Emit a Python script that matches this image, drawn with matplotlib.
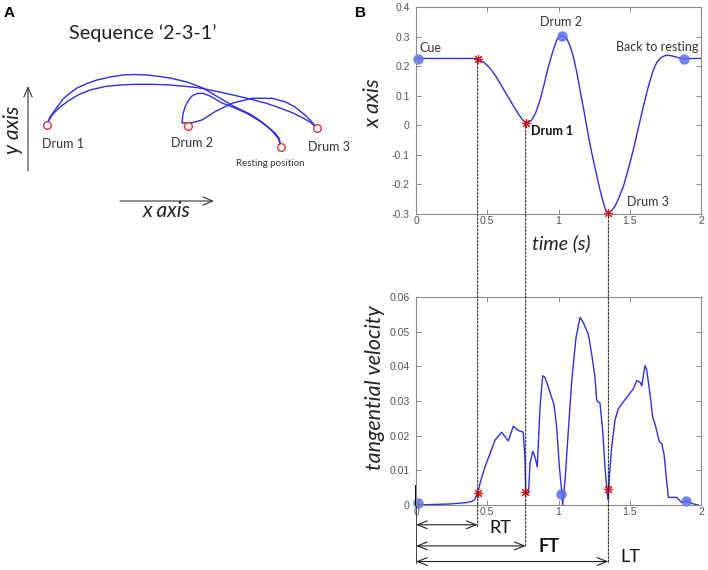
import matplotlib
matplotlib.use('Agg')
import matplotlib.pyplot as plt
from matplotlib.patches import ConnectionPatch

# ---------------- data ----------------
# Panel A: planar hand trajectory (image pixel coords of the sketch)
seg_rest_d2_x = [281, 279, 275, 267, 258, 248, 235, 222, 210, 203, 197, 192, 188, 185, 183, 182, 186, 192]
seg_rest_d2_y = [146, 138, 133, 126, 120, 114, 108, 103, 96, 93.3, 93.5, 96, 101, 107, 114, 123, 123, 122.7]
seg_d2_d3_x = [192, 202, 215, 232, 252, 272, 285, 295, 305, 311, 316]
seg_d2_d3_y = [122.7, 120, 111.7, 103.3, 98.3, 98.3, 101.7, 107, 115, 121, 127]
seg_d3_d1_x = [316, 310, 303, 293, 280, 267, 250, 233, 215, 200, 187, 170, 153, 135, 120, 105, 90, 78, 68, 59, 53, 49, 47]
seg_d3_d1_y = [127, 122, 118, 113, 108, 103.5, 99, 95, 91, 88, 86.5, 85, 84.3, 84.3, 85, 86.5, 90, 95, 101, 108, 114, 120, 124]
seg_d1_rest_x = [47, 50, 55, 63, 70, 77, 87, 97, 110, 123, 135, 147, 158, 170, 187, 203, 218, 235, 250, 262, 272, 278, 281]
seg_d1_rest_y = [124, 117, 110, 99, 93, 88, 83.5, 80, 77, 75, 74.5, 75, 76.3, 78, 82, 88, 97, 107, 114, 122, 131, 138, 146]
targets_x = [47, 188, 281, 317]
targets_y = [125, 126, 147, 128]
target_labels = ["Drum 1", "Drum 2", "Resting position", "Drum 3"]

# Panel B top: x position vs time
t_pos = [0, 0.1, 0.2, 0.3, 0.4, 0.433, 0.48, 0.519, 0.555, 0.59, 0.625, 0.66, 0.695, 0.73, 0.752, 0.77,
         0.79, 0.812, 0.84, 0.87, 0.9, 0.929, 0.96, 0.987, 1.005, 1.022, 1.04, 1.057, 1.08, 1.104,
         1.128, 1.151, 1.175, 1.198, 1.22, 1.244, 1.268, 1.291, 1.31, 1.326, 1.34, 1.35, 1.365,
         1.38, 1.396, 1.425, 1.455, 1.49, 1.525, 1.56, 1.595, 1.63, 1.665, 1.69, 1.712, 1.735,
         1.76, 1.795, 1.83, 1.883, 1.95, 2.0]
x_pos = [0.226, 0.226, 0.226, 0.226, 0.226, 0.224, 0.212, 0.193, 0.170, 0.142, 0.113, 0.085, 0.056, 0.030, 0.016, 0.009,
         0.010, 0.018, 0.042, 0.085, 0.140, 0.198, 0.250, 0.288, 0.299, 0.302, 0.300, 0.294, 0.270, 0.232,
         0.180, 0.120, 0.058, -0.004, -0.062, -0.117, -0.170, -0.218, -0.253, -0.280, -0.292, -0.296, -0.292,
         -0.284, -0.274, -0.244, -0.207, -0.148, -0.083, -0.010, 0.063, 0.130, 0.187, 0.213, 0.226, 0.233,
         0.237, 0.235, 0.230, 0.225, 0.226, 0.226]
pos_star_t = [0.433, 0.77, 1.35]
pos_star_x = [0.224, 0.009, -0.296]
pos_dot_t = [0.015, 1.022, 1.883]
pos_dot_x = [0.225, 0.302, 0.225]

# Panel B bottom: tangential velocity vs time
t_vel = [0, 0.24, 0.356, 0.39, 0.41, 0.433, 0.449, 0.484, 0.519, 0.554, 0.601, 0.648, 0.683, 0.718, 0.753,
         0.765, 0.77, 0.78, 0.79, 0.80, 0.819, 0.835, 0.851, 0.87, 0.889, 0.905, 0.929, 0.952, 0.968,
         0.987, 1.006, 1.022, 1.029, 1.046, 1.069, 1.093, 1.123, 1.151, 1.174, 1.209, 1.233, 1.256,
         1.268, 1.291, 1.31, 1.326, 1.343, 1.35, 1.357, 1.373, 1.396, 1.42, 1.478, 1.525, 1.549, 1.572,
         1.584, 1.607, 1.619, 1.642, 1.661, 1.677, 1.708, 1.724, 1.74, 1.771, 1.829, 1.864, 1.895,
         1.946, 1.98]
v_vel = [0, 0.0003, 0.0007, 0.001, 0.0015, 0.0032, 0.0062, 0.011, 0.0148, 0.0187, 0.021, 0.0185, 0.0227, 0.0215, 0.021,
         0.013, 0.0035, 0.003, 0.0038, 0.012, 0.0155, 0.0139, 0.011, 0.028, 0.0373, 0.0368, 0.034, 0.031, 0.029,
         0.0225, 0.011, 0.0043, 0.0, 0.0072, 0.0215, 0.0359, 0.0483, 0.0541, 0.0526, 0.0493, 0.0435, 0.0368,
         0.0301, 0.0294, 0.0215, 0.011, 0.003, 0.0015, 0.008, 0.0167, 0.0244, 0.0278, 0.031, 0.0335, 0.0359, 0.0354,
         0.0344, 0.0402, 0.039, 0.032, 0.0253, 0.0234, 0.0182, 0.0177, 0.0148, 0.0022, 0.0022, 0.0007, 0.0011,
         0.0003, 0.0]
vel_star_t = [0.433, 0.767, 1.35]
vel_star_v = [0.0035, 0.0037, 0.0047]
vel_dot_t = [0.016, 1.018, 1.895]
vel_dot_v = [0.0005, 0.0032, 0.0012]

x_ticks = [0, 0.5, 1, 1.5, 2]
x_ticklabels = ["0", "0.5", "1", "1.5", "2"]
pos_ticks = [-0.3, -0.2, -0.1, 0, 0.1, 0.2, 0.3, 0.4]
pos_ticklabels = ["-0.3", "-0.2", "-0.1", "0", "0.1", "0.2", "0.3", "0.4"]
vel_ticks = [0, 0.01, 0.02, 0.03, 0.04, 0.05, 0.06]
vel_ticklabels = ["0", "0.01", "0.02", "0.03", "0.04", "0.05", "0.06"]

interval_names = ["RT", "FT", "LT"]
interval_end = [0.433, 0.77, 1.35]

# ---------------- style ----------------
W, H = 708, 570
TXT = 'Lato'
TICKF = 'Liberation Sans'
LINE_BLUE = '#2f2fe0'
DOT_BLUE = '#5b6ff0'
SPINE = '#8a8a8a'
TICKC = '#555555'

fig = plt.figure(figsize=(W / 100, H / 100), dpi=100)

# overlay axes in pixel coordinates for panel A and panel letters
ax0 = fig.add_axes([0, 0, 1, 1])
ax0.set_xlim(0, W)
ax0.set_ylim(H, 0)
ax0.axis('off')

for sx, sy in [(seg_rest_d2_x, seg_rest_d2_y), (seg_d2_d3_x, seg_d2_d3_y),
               (seg_d3_d1_x, seg_d3_d1_y), (seg_d1_rest_x, seg_d1_rest_y)]:
    ax0.plot(sx, sy, color=LINE_BLUE, lw=1.0, solid_joinstyle='round')
ax0.plot(targets_x, targets_y, 'o', ms=5.5, mfc='white', mec='#e02020', mew=0.9, ls='none')
ax0.text(63, 144, target_labels[0], fontsize=9, family=TXT, color='#333333', ha='center', va='center')
ax0.text(192, 143, target_labels[1], fontsize=9, family=TXT, color='#333333', ha='center', va='center')
ax0.text(270, 164, target_labels[2], fontsize=7, family=TXT, color='#333333', ha='center', va='center')
ax0.text(329, 147, target_labels[3], fontsize=9, family=TXT, color='#333333', ha='center', va='center')
ax0.text(143, 33, "Sequence \u20182-3-1\u2019", fontsize=14.2, family=TXT, color='#222222', ha='center', va='center')
ax0.annotate('', xy=(28, 86), xytext=(28, 171),
             arrowprops=dict(arrowstyle='->,head_length=0.7,head_width=0.3', lw=0.8, color='#333333',
                             shrinkA=0, shrinkB=0))
ax0.annotate('', xy=(214, 201), xytext=(120, 201),
             arrowprops=dict(arrowstyle='->,head_length=0.7,head_width=0.3', lw=0.8, color='#333333',
                             shrinkA=0, shrinkB=0))
ax0.text(13, 130, "y axis", fontsize=15, family=TXT, style='italic', color='#222222',
         rotation=90, ha='center', va='center')
ax0.text(167, 211, "x axis", fontsize=15, family=TXT, style='italic', color='#222222',
         ha='center', va='center')
ax0.text(9, 13, "A", fontsize=11, family='Liberation Sans', weight='bold', ha='center', va='center')
ax0.text(360, 13, "B", fontsize=11, family='Liberation Sans', weight='bold', ha='center', va='center')


def style_axes(ax):
    for s in ax.spines.values():
        s.set_color(SPINE)
        s.set_linewidth(0.8)
    ax.tick_params(direction='in', length=3.5, width=0.7, color=SPINE, top=True, right=True,
                   labelsize=7.6, labelcolor=TICKC)
    ax.tick_params(axis='y', pad=4.5)
    ax.tick_params(axis='x', pad=1.5)
    for lab in ax.get_xticklabels() + ax.get_yticklabels():
        lab.set_family(TICKF)
    ax.set_xlim(0, 2)


# ---- top: x position ----
axT = fig.add_axes([416 / W, 1 - 214 / H, 285 / W, 207 / H])
axT.plot(t_pos, x_pos, color=LINE_BLUE, lw=1.0)
axT.plot(pos_dot_t, pos_dot_x, 'o', ms=7.5, color=DOT_BLUE, alpha=0.85, mec='none', ls='none', clip_on=False)
axT.plot(pos_star_t, pos_star_x, marker=(8, 2, 0), ms=6.5, color='#ee1111', mew=0.8, ls='none', clip_on=False)
axT.set_xticks(x_ticks, x_ticklabels)
axT.set_yticks(pos_ticks, pos_ticklabels)
axT.set_ylim(-0.3, 0.4)
style_axes(axT)
axT.set_ylabel("x axis", fontsize=15.5, family=TXT, style='italic', color='#222222', va='center')
axT.yaxis.set_label_coords((374 - 416) / 285, (214 - 103) / 207)
axT.set_xlabel("time (s)", fontsize=14, family=TXT, style='italic', color='#222222', va='center')
axT.xaxis.set_label_coords((561 - 416) / 285, (214 - 243) / 207)
axT.text(0.023, 0.26, "Cue", fontsize=9, family=TXT, color='#333333', ha='left', va='center')
axT.text(1.02, 0.349, "Drum 2", fontsize=9, family=TXT, color='#333333', ha='center', va='center')
axT.text(1.985, 0.265, "Back to resting", fontsize=9, family=TXT, color='#333333', ha='right', va='center')
axT.text(0.805, -0.021, "Drum 1", fontsize=9, family=TXT, weight='bold', color='#111111', ha='left', va='center')
axT.text(1.483, -0.261, "Drum 3", fontsize=9, family=TXT, color='#333333', ha='left', va='center')

# ---- bottom: tangential velocity ----
axB = fig.add_axes([416 / W, 1 - 505 / H, 285 / W, 208 / H])
axB.plot(t_vel, v_vel, color=LINE_BLUE, lw=1.0)
axB.plot(vel_dot_t, vel_dot_v, 'o', ms=7.5, color=DOT_BLUE, alpha=0.85, mec='none', ls='none', clip_on=False)
axB.plot(vel_star_t, vel_star_v, marker=(8, 2, 0), ms=6.5, color='#ee1111', mew=0.8, ls='none', clip_on=False)
axB.set_xticks(x_ticks, x_ticklabels)
axB.set_yticks(vel_ticks, vel_ticklabels)
axB.set_ylim(0, 0.06)
style_axes(axB)
axB.set_ylabel("tangential velocity", fontsize=15.5, family=TXT, style='italic', color='#222222', va='center')
axB.yaxis.set_label_coords((375 - 416) / 285, (505 - 388) / 208)

# black marker line at t = 0
axB.plot([0, 0], [0, 0.0055], color='k', lw=1.4, clip_on=False)
axB.plot([0, 0], [0, -0.0166], color='#222222', lw=0.6, clip_on=False)

# interval arrows and dashed guide lines
arrow_y = [-0.0057, -0.0118, -0.0163]
dash_end = [-0.0063, -0.0121, -0.0166]
label_pos = [(0.512, -0.0066, 'normal'), (0.863, -0.012, 'bold'), (1.436, -0.0150, 'normal')]
for i, name in enumerate(interval_names):
    te = interval_end[i]
    con = ConnectionPatch(xyA=(te, pos_star_x[i]), coordsA=axT.transData,
                          xyB=(te, dash_end[i]), coordsB=axB.transData,
                          color='#111111', lw=0.7, linestyle=(0, (2.2, 1.6)))
    fig.add_artist(con)
    axB.annotate('', xy=(te, arrow_y[i]), xytext=(0, arrow_y[i]), xycoords='data', annotation_clip=False,
                 arrowprops=dict(arrowstyle='<->,head_length=0.7,head_width=0.28', lw=0.8,
                                 color='#222222', shrinkA=0, shrinkB=0))
    lx, ly, lw_ = label_pos[i]
    axB.text(lx, ly, name, fontsize=13, family=TXT, weight=lw_, color='#111111',
             ha='left', va='center', clip_on=False)

fig.savefig('out.png', dpi=100)
